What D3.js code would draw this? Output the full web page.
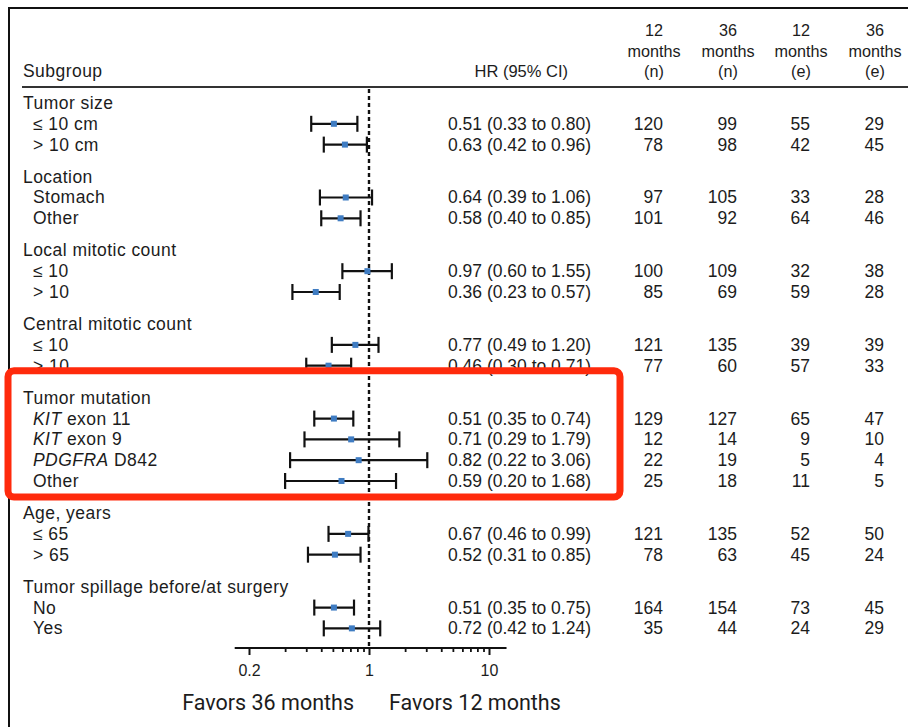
<!DOCTYPE html>
<html><head><meta charset="utf-8">
<script src="https://cdn.jsdelivr.net/npm/d3@7"></script>
<style>
body{margin:0;background:#fff}
svg{display:block}
text{font-family:"Liberation Sans",Arial,Helvetica,sans-serif;fill:#1c1c1c}
</style>
</head><body>
<svg id="chart" width="908" height="727"></svg>
<script>
// ---------------- data ----------------
const groups = ["Tumor size","Location","Local mitotic count","Central mitotic count","Tumor mutation","Age, years","Tumor spillage before/at surgery"];
const groupSizes = [2,2,2,2,4,2,2];
const subItalic = ["","","","","","","","","KIT","KIT","PDGFRA","","","","",""];
const subLabels = ["≤ 10 cm","> 10 cm","Stomach","Other","≤ 10","> 10","≤ 10","> 10"," exon 11"," exon 9"," D842","Other","≤ 65","> 65","No","Yes"];
const hr     = [0.51,0.63,0.64,0.58,0.97,0.36,0.77,0.46,0.51,0.71,0.82,0.59,0.67,0.52,0.51,0.72];
const ciLow  = [0.33,0.42,0.39,0.40,0.60,0.23,0.49,0.30,0.35,0.29,0.22,0.20,0.46,0.31,0.35,0.42];
const ciHigh = [0.80,0.96,1.06,0.85,1.55,0.57,1.20,0.71,0.74,1.79,3.06,1.68,0.99,0.85,0.75,1.24];
const n12 = [120,78,97,101,100,85,121,77,129,12,22,25,121,78,164,35];
const n36 = [99,98,105,92,109,69,135,60,127,14,19,18,135,63,154,44];
const e12 = [55,42,33,64,32,59,39,57,65,9,5,11,52,45,73,24];
const e36 = [29,45,28,46,38,28,39,33,47,10,4,5,50,24,45,29];
const colHeaders = [["12","months","(n)"],["36","months","(n)"],["12","months","(e)"],["36","months","(e)"]];
const majorTicks = [0.1,1,10];
const majorTickLabels = ["0.2","1","10"];
const minorTicks = [0.2,0.3,0.4,0.5,0.6,0.7,0.8,0.9,2,3,4,5,6,7,8,9];
const axisExtent = [0.076,14];
const favorLabels = ["Favors 36 months","Favors 12 months"];
const highlightGroup = "Tumor mutation";

// ---------------- layout ----------------
const svg = d3.select("#chart");
const groupGap = 0.543;
const rows = [];
let idx = 0, item = 0;
groups.forEach((g,gi)=>{
  rows.push({type:"group", label:g, slot: idx + gi*groupGap, group:g});
  idx++;
  for(let k=0;k<groupSizes[gi];k++){
    rows.push({type:"item", i:item, slot: idx + gi*groupGap, group:g});
    idx++; item++;
  }
});
const y = d3.scaleLinear().domain([0,1]).range([103,123.8]);
const x = d3.scaleLog().domain([0.1,10]).range([249,489]);
const fmt = d3.format(".2f");
const colRight = [663,737,810,884];
const numCols = [n12,n36,e12,e36];
const axisY = 648;
const FS = 17.5, LS = "0.45px";

// frame
svg.append("line").attr("x1",9).attr("x2",9).attr("y1",7).attr("y2",727).attr("stroke","#111").attr("stroke-width",2);
svg.append("line").attr("x1",8).attr("x2",908).attr("y1",8).attr("y2",8).attr("stroke","#111").attr("stroke-width",2);

// header
svg.append("text").attr("x",23).attr("y",77).attr("font-size",FS).style("letter-spacing",LS).text("Subgroup");
svg.append("text").attr("x",568).attr("y",77).attr("font-size",16.5).attr("text-anchor","end").text("HR (95% CI)");
colHeaders.forEach((h,c)=>{
  h.forEach((t,l)=>{
    svg.append("text").attr("x",colRight[c]-9).attr("y",36+l*20.5).attr("font-size",16.2)
      .attr("text-anchor","middle").text(t);
  });
});
svg.append("line").attr("x1",22).attr("x2",908).attr("y1",87).attr("y2",87).attr("stroke","#333").attr("stroke-width",2);

// reference line
svg.append("line").attr("x1",x(1)).attr("x2",x(1)).attr("y1",89).attr("y2",axisY)
  .attr("stroke","#111").attr("stroke-width",2.4).attr("stroke-dasharray","4,3");

// row labels
rows.forEach(r=>{
  const yy = y(r.slot)+6;
  if(r.type==="group"){
    svg.append("text").attr("x",23).attr("y",yy).attr("font-size",FS).style("letter-spacing",LS).text(r.label);
  } else {
    const t = svg.append("text").attr("x",33).attr("y",yy).attr("font-size",FS).style("letter-spacing",LS);
    if(subItalic[r.i]) t.append("tspan").attr("font-style","italic").text(subItalic[r.i]);
    t.append("tspan").text(subLabels[r.i]);
    svg.append("text").attr("x",591).attr("y",yy).attr("font-size",FS).attr("text-anchor","end")
      .text(`${fmt(hr[r.i])} (${fmt(ciLow[r.i])} to ${fmt(ciHigh[r.i])})`);
    numCols.forEach((col,c)=>{
      svg.append("text").attr("x",colRight[c]).attr("y",yy).attr("font-size",FS).attr("text-anchor","end").text(col[r.i]);
    });
  }
});

// CI bars
const items = rows.filter(r=>r.type==="item");
const g = svg.append("g");
items.forEach(r=>{
  const yy = y(r.slot);
  g.append("line").attr("x1",x(ciLow[r.i])).attr("x2",x(ciHigh[r.i])).attr("y1",yy).attr("y2",yy).attr("stroke","#111").attr("stroke-width",2.2);
  [ciLow[r.i],ciHigh[r.i]].forEach(v=>{
    g.append("line").attr("x1",x(v)).attr("x2",x(v)).attr("y1",yy-8).attr("y2",yy+8).attr("stroke","#111").attr("stroke-width",2.2);
  });
  g.append("rect").attr("x",x(hr[r.i])-3).attr("y",yy-3).attr("width",6).attr("height",6).attr("fill","#3f7cc2");
});

// axis
const ax = svg.append("g").attr("transform",`translate(0,${axisY})`);
ax.call(d3.axisBottom(x).tickValues(majorTicks).tickFormat((d,i)=>majorTickLabels[i]).tickSize(7).tickSizeOuter(0));
ax.select(".domain").remove();
ax.selectAll(".tick line").attr("stroke","#111").attr("stroke-width",2);
ax.selectAll(".tick text").attr("font-size",16).attr("font-family","Liberation Sans, Arial, sans-serif").attr("fill","#1c1c1c").attr("dy","1.15em");
const axm = svg.append("g").attr("transform",`translate(0,${axisY})`);
axm.call(d3.axisBottom(x).tickValues(minorTicks).tickFormat("").tickSize(4).tickSizeOuter(0));
axm.select(".domain").remove();
axm.selectAll(".tick line").attr("stroke","#111").attr("stroke-width",1.8);
svg.append("line").attr("x1",x(axisExtent[0])).attr("x2",x(axisExtent[1])).attr("y1",axisY).attr("y2",axisY).attr("stroke","#111").attr("stroke-width",2.2);

// favors labels
svg.append("text").attr("x",x(1)-15).attr("y",710).attr("font-size",21.5).attr("text-anchor","end")
  .style("font-family","Roboto, sans-serif").text(favorLabels[0]);
svg.append("text").attr("x",x(1)+20).attr("y",710).attr("font-size",21.5)
  .style("font-family","Roboto, sans-serif").text(favorLabels[1]);

// highlight box around the highlighted group
const hRows = rows.filter(r=>r.group===highlightGroup);
const boxTop = y(hRows[0].slot)-27, boxBottom = y(hRows[hRows.length-1].slot)+16;
svg.append("rect").attr("x",8).attr("y",boxTop).attr("width",612).attr("height",boxBottom-boxTop)
  .attr("rx",6).attr("fill","none").attr("stroke","#ff2a0c").attr("stroke-width",7);
</script>
</body></html>
